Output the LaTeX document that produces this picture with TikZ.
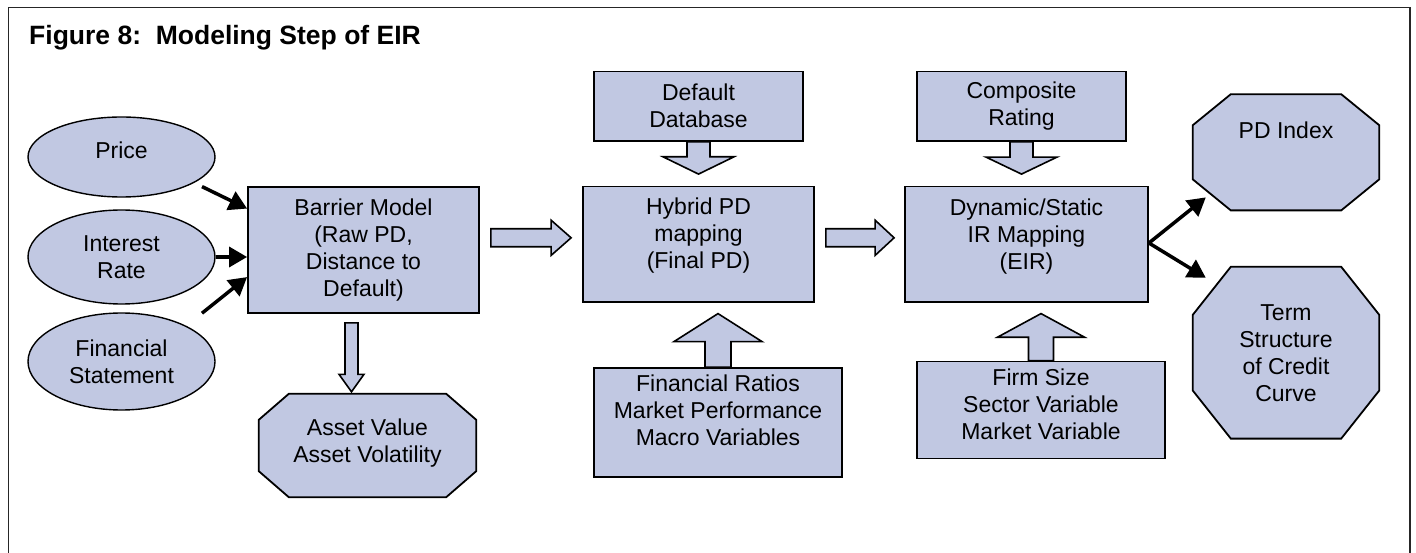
\documentclass[tikz,border=0pt]{standalone}
\usepackage{fontspec}
\setmainfont{Liberation Sans}
\usetikzlibrary{calc,shapes.geometric,arrows.meta}
\pgfdeclarelayer{background}
\pgfsetlayers{background,main}
\definecolor{boxfill}{RGB}{193,200,226}

% block arrow pointing right: start, tip, shaft half width, head half width, head length
\newcommand\fatright[5]{%
  \draw[fatarrow] let \p1=(#1), \p2=(#2) in
    (\x1,\y2+#3) -- (\x2-#5,\y2+#3) -- (\x2-#5,\y2+#4) -- (\x2,\y2)
    -- (\x2-#5,\y2-#4) -- (\x2-#5,\y2-#3) -- (\x1,\y2-#3) -- cycle;}
% block arrow pointing down
\newcommand\fatdown[5]{%
  \draw[fatarrow] let \p1=(#1), \p2=(#2) in
    (\x2-#3,\y1) -- (\x2-#3,\y2+#5) -- (\x2-#4,\y2+#5) -- (\x2,\y2)
    -- (\x2+#4,\y2+#5) -- (\x2+#3,\y2+#5) -- (\x2+#3,\y1) -- cycle;}
% block arrow pointing up
\newcommand\fatup[5]{%
  \draw[fatarrow] let \p1=(#1), \p2=(#2) in
    (\x2-#3,\y1) -- (\x2-#3,\y2-#5) -- (\x2-#4,\y2-#5) -- (\x2,\y2)
    -- (\x2+#4,\y2-#5) -- (\x2+#3,\y2-#5) -- (\x2+#3,\y1) -- cycle;}
% chamfered outline round a rectangular node: node, chamfer x, chamfer y
\newcommand\octoutline[3]{%
  \begin{pgfonlayer}{background}
  \draw[octline] ($(#1.north west)+(#2,0)$) -- ($(#1.north east)+(-#2,0)$)
    -- ($(#1.north east)+(0,#3)$) -- ($(#1.south east)+(0,-#3)$)
    -- ($(#1.south east)+(-#2,0)$) -- ($(#1.south west)+(#2,0)$)
    -- ($(#1.south west)+(0,-#3)$) -- ($(#1.north west)+(0,#3)$) -- cycle;
  \end{pgfonlayer}}

\begin{document}
\begin{tikzpicture}[x=1pt,y=-1pt,
  every node/.style={font=\fontsize{23}{27}\selectfont},
  box/.style={draw=black, fill=boxfill, line width=1.8pt, rectangle,
    inner sep=0pt, align=center},
  oval/.style={draw=black, fill=boxfill, line width=1.4pt, ellipse,
    inner sep=0pt, align=center},
  octcore/.style={rectangle, inner sep=0pt, align=center},
  octline/.style={draw=black, fill=boxfill, line width=1.8pt, line join=miter},
  lbl/.style={align=center, inner sep=0pt},
  fatarrow/.style={draw=black, fill=boxfill, line width=1.6pt, line join=miter},
  link/.style={line width=3.5pt, -{Triangle[length=18pt,width=20pt]}},
  frame/.style={draw=black!85, line width=1.3pt}]

\useasboundingbox (0,0) rectangle (1416,553);

% outer frame and title
\draw[frame] (8.5,553) -- (8.5,7.7) -- (1410,7.7) -- (1410,553);
\node[anchor=base west, inner sep=0pt, font=\fontsize{26.5}{30}\selectfont\bfseries]
  (title) at (29,44.7) {Figure 8:\ \ Modeling Step of EIR};

% inputs
\node[oval, minimum width=187pt, minimum height=80pt] (price) at (121.5,157) {};
\node[lbl] (price-t) at (121.5,150) {Price};
\node[oval, minimum width=187pt, minimum height=94pt] (rate) at (121.5,257) {Interest\\Rate};
\node[oval, minimum width=187pt, minimum height=97pt] (stmt) at (121.5,361.5) {Financial\\Statement};

% barrier model and its outputs
\node[box, minimum width=231pt, minimum height=126pt] (barrier) at (363.5,250)
  {Barrier Model\\(Raw PD,\\Distance to\\Default)};
\node[octcore, minimum width=217pt, minimum height=103pt] (asset) at (367.5,445.5) {};
\octoutline{asset}{30}{26}
\node[lbl] (asset-t) at (367.5,443.5) {Asset Value\\Asset Volatility};

% hybrid PD mapping
\node[box, minimum width=209pt, minimum height=69.5pt] (dd) at (698.5,106.2) {Default\\Database};
\node[box, minimum width=231pt, minimum height=115.4pt] (hybrid) at (698.5,244.3) {};
\node[lbl] (hybrid-t) at (698.5,236) {Hybrid PD\\mapping\\(Final PD)};
\node[box, minimum width=248pt, minimum height=109pt] (ratios) at (718,422.5) {};
\node[lbl] (ratios-t) at (718,410.5) {Financial Ratios\\Market Performance\\Macro Variables};

% implied rating mapping
\node[box, minimum width=209pt, minimum height=69.5pt] (comp) at (1021.5,106.2) {Composite\\Rating};
\node[box, minimum width=243pt, minimum height=115.4pt] (dyn) at (1026.5,244.3) {};
\node[lbl] (dyn-t) at (1026.5,237) {Dynamic/Static\\IR Mapping\\(EIR)};
\node[box, minimum width=248pt, minimum height=97pt] (firm) at (1041,410) {};
\node[lbl] (firm-t) at (1041,404.6) {Firm Size\\Sector Variable\\Market Variable};

% outputs
\node[octcore, minimum width=186pt, minimum height=115.8pt] (pd) at (1286,152.3) {};
\octoutline{pd}{38}{31}
\node[lbl] (pd-t) at (1286,130.7) {PD Index};
\node[octcore, minimum width=186pt, minimum height=171.4pt] (term) at (1286,352.7)
  {Term\\Structure\\of Credit\\Curve};
\octoutline{term}{38}{48}

% input arrows
\draw[link] ($(price.center)+(80.5,29.6)$) -- ($(barrier.north west)+(0,22.5)$);
\draw[link] (rate.east) -- (barrier.west |- rate.east);
\draw[link] ($(stmt.center)+(80.5,-48.3)$) -- ($(barrier.north west)+(0,91)$);

% block arrows between stages
\fatright{$(barrier.north east)+(11,52)$}{$(hybrid.north west)+(-11,52.1)$}{9pt}{17.6pt}{20pt}
\fatright{$(hybrid.north east)+(11,52)$}{$(dyn.north west)+(-10,52.1)$}{9pt}{17.6pt}{19pt}
\fatdown{dd.south}{$(hybrid.north)+(0,-11.6)$}{11.5pt}{35.5pt}{17.3pt}
\fatdown{comp.south}{$(comp.south |- dyn.north)+(0,-11.6)$}{11.5pt}{35.5pt}{17pt}
\fatup{ratios.north}{$(ratios.north |- hybrid.south)+(0,10.7)$}{13pt}{44pt}{28pt}
\fatup{firm.north}{$(firm.north |- dyn.south)+(0,10.7)$}{12.5pt}{43.5pt}{23.6pt}
\fatdown{$(barrier.south)+(-12,9)$}{$(barrier.south |- asset.north)+(-12,-2)$}{6.5pt}{12.5pt}{17.5pt}

% output arrows
\draw[link] ($(dyn.east)+(0,-1.3)$) -- ($(pd.south west)+(13,-13)$);
\draw[link] ($(dyn.east)+(0,-1.3)$) -- ($(term.north west)+(13,11)$);
\end{tikzpicture}
\end{document}
